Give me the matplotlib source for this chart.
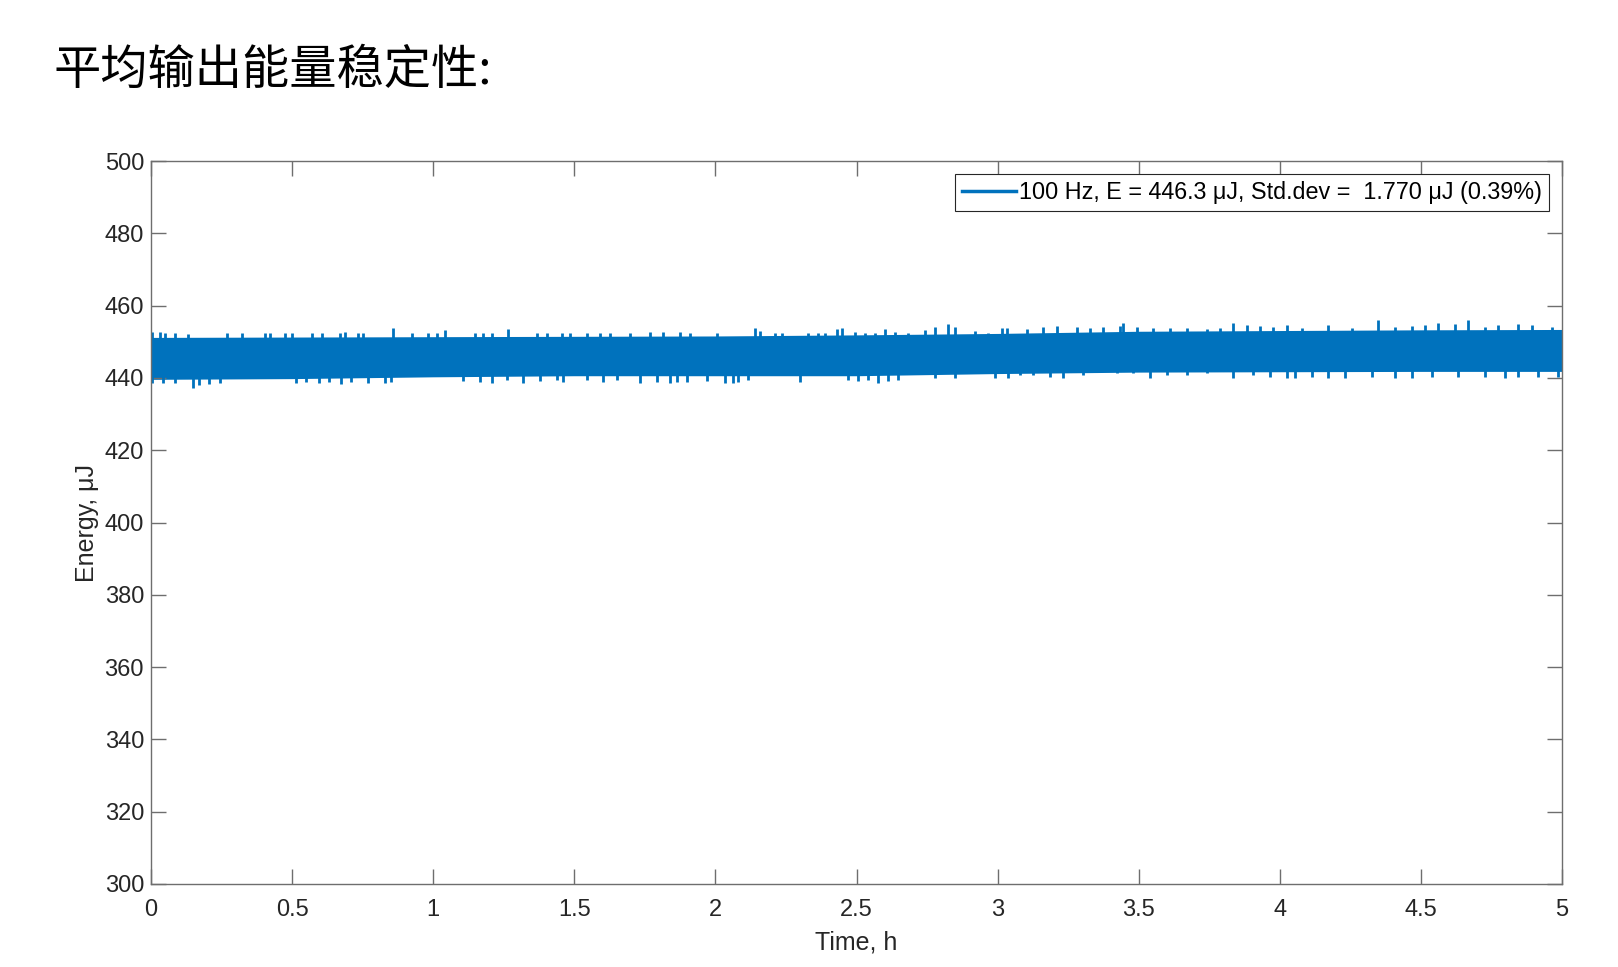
import matplotlib
matplotlib.use('Agg')
import matplotlib.pyplot as plt
from matplotlib.lines import Line2D

plt.rcParams['font.family'] = ['Liberation Sans', 'DejaVu Sans']

# core band of the pulse energy trace, time in h
band_t = [0, 0.5, 1.0, 1.5, 2.0, 2.5, 3.0, 3.5, 4.0, 4.5, 5.0]
band_hi = [451.2, 451.3, 451.4, 451.5, 451.6, 451.9, 452.3, 452.9, 453.1, 453.3, 453.4]
band_lo = [439.6, 439.8, 440.3, 440.6, 440.6, 440.6, 441.2, 441.6, 441.7, 441.8, 441.8]

# single excursions sticking out of the band
up_t = [0.004, 0.032, 0.050, 0.085, 0.131, 0.269, 0.322, 0.404, 0.422, 0.475,
        0.500, 0.570, 0.606, 0.670, 0.687, 0.734, 0.751, 0.858, 0.925, 0.982,
        1.013, 1.042, 1.148, 1.176, 1.208, 1.265, 1.368, 1.403, 1.456, 1.485,
        1.545, 1.591, 1.627, 1.697, 1.768, 1.814, 1.875, 1.910, 2.006,
        2.140, 2.158, 2.211, 2.236, 2.328, 2.364, 2.388, 2.431, 2.449, 2.495,
        2.530, 2.566, 2.601, 2.636, 2.683, 2.743, 2.778, 2.824, 2.849, 2.920,
        2.966, 3.016, 3.033, 3.104, 3.161, 3.211, 3.281, 3.327, 3.374, 3.434,
        3.444, 3.494, 3.551, 3.611, 3.671, 3.742, 3.788, 3.834, 3.884, 3.930,
        3.976, 4.026, 4.079, 4.171, 4.256, 4.348, 4.408, 4.468, 4.515, 4.561,
        4.621, 4.667, 4.727, 4.773, 4.844, 4.894, 4.965]
up_v = [452.8, 452.7, 452.3, 452.3, 452.2, 452.3, 452.3, 452.5, 452.5, 452.5,
        452.5, 452.3, 452.3, 452.5, 452.8, 452.5, 452.5, 453.7, 452.3, 452.3,
        452.5, 453.3, 452.3, 452.5, 452.5, 453.4, 452.3, 452.5, 452.5, 452.5,
        452.5, 452.5, 452.5, 452.5, 452.7, 452.7, 452.7, 452.5, 452.3,
        453.7, 453.1, 452.5, 452.5, 452.3, 452.5, 452.5, 453.4, 453.7, 452.8,
        452.5, 452.5, 453.4, 452.8, 452.5, 453.3, 454.0, 454.9, 454.2, 453.1,
        452.5, 453.7, 453.7, 453.4, 454.0, 454.4, 454.0, 453.7, 454.2, 454.4,
        455.1, 454.0, 453.7, 453.7, 453.7, 453.4, 453.7, 455.1, 454.6, 454.4,
        454.2, 454.6, 453.7, 454.6, 453.7, 456.0, 454.2, 454.4, 454.6, 455.1,
        454.9, 456.0, 454.2, 454.6, 454.9, 454.6, 454.2]

down_t = [0.004, 0.043, 0.085, 0.150, 0.170, 0.205, 0.245, 0.515, 0.550, 0.595,
          0.630, 0.675, 0.710, 0.770, 0.828, 0.852,
          1.106, 1.166, 1.208, 1.262, 1.318, 1.378, 1.439, 1.460, 1.545, 1.602,
          1.651, 1.733, 1.793, 1.839, 1.864, 1.899, 1.970,
          2.034, 2.062, 2.080, 2.116, 2.300, 2.470, 2.505, 2.541, 2.576, 2.612,
          2.647, 2.778, 2.849, 2.991,
          3.037, 3.079, 3.125, 3.186, 3.232, 3.303, 3.423, 3.480, 3.540, 3.600,
          3.671, 3.742, 3.834, 3.905, 3.965, 4.026,
          4.054, 4.114, 4.171, 4.231, 4.327, 4.408, 4.468, 4.539, 4.631, 4.727,
          4.798, 4.844, 4.915, 4.986]
down_v = [438.5, 438.7, 438.5, 437.1, 438.0, 438.3, 438.5, 438.5, 439.0, 438.7,
          439.0, 438.3, 439.0, 438.7, 438.5, 439.0,
          439.2, 439.0, 438.7, 439.4, 438.7, 439.2, 439.4, 439.0, 439.4, 439.0,
          439.4, 438.5, 439.0, 438.7, 439.0, 439.0, 439.2,
          438.7, 438.7, 439.0, 439.4, 439.0, 439.4, 439.2, 439.4, 438.7, 439.2,
          439.4, 439.9, 439.9, 439.9,
          439.9, 440.8, 440.8, 440.3, 439.9, 440.8, 441.3, 441.3, 439.9, 440.8,
          440.8, 441.3, 439.9, 440.8, 440.3, 439.9,
          439.9, 440.3, 439.9, 439.9, 440.3, 439.9, 439.9, 440.3, 440.3, 440.3,
          439.9, 440.3, 440.3, 440.3]

label = '100 Hz, E = 446.3 \u03bcJ, Std.dev =  1.770 \u03bcJ (0.39%)'
xticks = [0, 0.5, 1, 1.5, 2, 2.5, 3, 3.5, 4, 4.5, 5]
xticklabels = ['0', '0.5', '1', '1.5', '2', '2.5', '3', '3.5', '4', '4.5', '5']
yticks = list(range(300, 501, 20))

blue = '#0072BD'
axcol = '#6e6e6e'
txtcol = '#262626'

fig = plt.figure(figsize=(16.18, 9.67), dpi=100)
fig.text(54 / 1618, 1 - 71 / 967, '平均输出能量稳定性:', fontsize=34,
         family=['Noto Sans CJK SC', 'DejaVu Sans'], va='center', ha='left')

ax = fig.add_axes([151 / 1618, 1 - 884 / 967, 1411 / 1618, 723 / 967])
ax.fill_between(band_t, band_lo, band_hi, color=blue, lw=0)
ax.vlines(up_t, 446, up_v, color=blue, lw=2)
ax.vlines(down_t, down_v, 446, color=blue, lw=2)

ax.set_xlim(0, 5)
ax.set_ylim(300, 500)
ax.set_xticks(xticks)
ax.set_xticklabels(xticklabels)
ax.set_yticks(yticks)
ax.tick_params(direction='in', length=11, width=1, colors=axcol, labelcolor=txtcol,
               labelsize=17, top=True, right=True)
ax.tick_params(axis='x', pad=11)
ax.tick_params(axis='y', pad=5)
for s in ax.spines.values():
    s.set_color(axcol)
    s.set_linewidth(1)

ax.set_xlabel('Time, h', fontsize=18, color=txtcol)
ax.xaxis.set_label_coords(0.5, -0.064)
ax.set_ylabel('Energy, \u03bcJ', fontsize=18, color=txtcol)
ax.yaxis.set_label_coords(-0.037, 0.5)

h = Line2D([], [], color=blue, lw=2.5)
leg = ax.legend([h], [label], loc='upper right', fontsize=16.8, fancybox=False,
                framealpha=1, edgecolor=txtcol, borderaxespad=0.55,
                handlelength=2.3, handletextpad=0.15, borderpad=0.3)
leg.get_frame().set_linewidth(0.8)

fig.savefig('out.png', dpi=100)
